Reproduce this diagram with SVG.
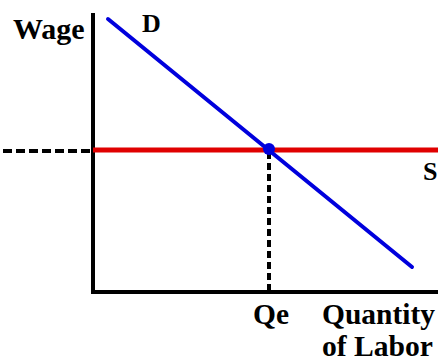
<svg xmlns="http://www.w3.org/2000/svg" width="438" height="361" viewBox="0 0 438 361">
<style>
.t{font-weight:bold;fill:#000}
.ax{stroke:#000;stroke-width:4;fill:none}
.dash{stroke:#000;stroke-width:4;fill:none}
</style>
<rect width="438" height="361" fill="#fff"/>
<g id="axes">
<path class="ax" d="M93,13 V292 H438"/>
</g>
<g id="connectors">
<path class="dash" d="M3,151 H93" stroke-dasharray="9 4"/>
<path class="dash" d="M269,152 V290" stroke-dasharray="7 4"/>
</g>
<g id="supply">
<line x1="93" y1="150" x2="438" y2="150" stroke="#e00000" stroke-width="5"/>
</g>
<g id="demand">
<line x1="108" y1="19" x2="412" y2="267" stroke="#0000dd" stroke-width="4" stroke-linecap="round"/>
</g>
<g id="equilibrium">
<circle cx="269" cy="149" r="6" fill="#0000dd"/>
</g>
<g id="labels" font-family="'Liberation Serif', serif">
<text class="t" x="13" y="39" font-size="30">Wage</text>
<text class="t" x="142" y="32" font-size="26">D</text>
<text class="t" x="423" y="180" font-size="26">S</text>
<text class="t" x="253" y="324" font-size="29" textLength="36" lengthAdjust="spacingAndGlyphs">Qe</text>
<text class="t" x="322" y="324" font-size="29" textLength="113" lengthAdjust="spacingAndGlyphs">Quantity</text>
<text class="t" x="322" y="356" font-size="29" textLength="111" lengthAdjust="spacingAndGlyphs">of Labor</text>
</g>
</svg>
